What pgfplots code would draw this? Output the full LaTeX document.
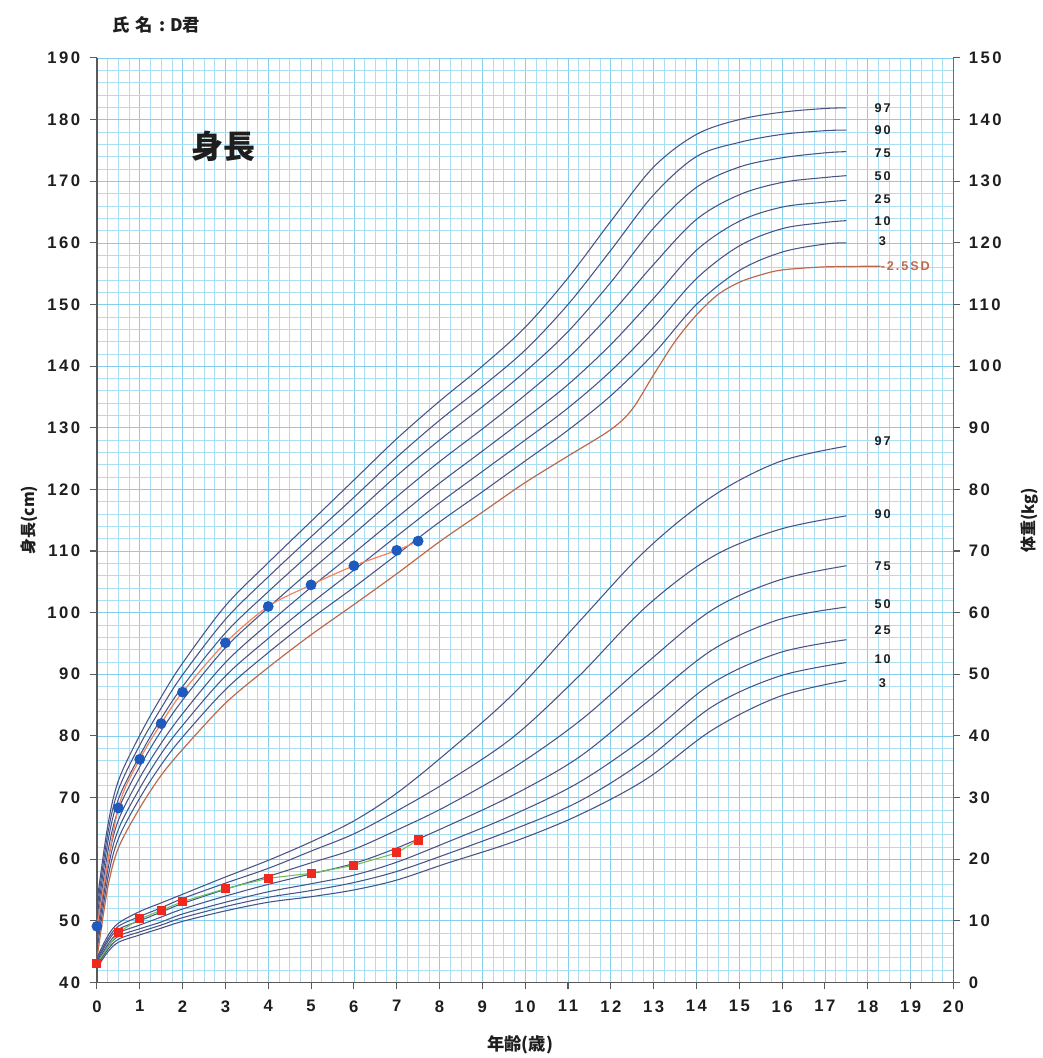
\documentclass[border=0pt]{standalone}
\usepackage{fontspec}
\usepackage{pgfplots}
\usepackage{pgfplotstable}
\pgfplotsset{compat=1.18}
\setmainfont{Liberation Sans}
\newfontfamily\jp{Noto Sans CJK JP}
\newfontfamily\numf{Liberation Sans}[LetterSpace=15]

\definecolor{gridmin}{RGB}{172,222,243}
\definecolor{gridmaj}{RGB}{135,205,236}
\definecolor{pct}{RGB}{72,84,135}
\definecolor{sdc}{RGB}{190,105,75}
\definecolor{dotblue}{RGB}{30,90,190}
\definecolor{sqred}{RGB}{240,40,30}
\definecolor{htline}{RGB}{245,130,90}
\definecolor{wtline}{RGB}{110,190,90}
\definecolor{axgray}{RGB}{90,90,90}
\definecolor{txt}{RGB}{30,30,30}

\pgfplotstableread{
age  p3    p10   p25   p50   p75   p90   p97
0    45.0  46.3  47.6  49.0  50.4  51.7  53.0
0.25 56.7  58.1  59.4  61.0  62.6  64.0  65.3
0.5  63.3  64.8  66.3  68.0  69.7  71.2  72.7
1    69.9  71.5  73.2  75.0  76.8  78.5  80.1
1.5  75.3  77.1  78.8  80.8  82.8  84.5  86.3
2    79.8  81.7  83.6  85.8  88.0  89.9  91.8
3    87.5  89.7  91.9  94.3  96.7  98.9  101.1
4    93.5  95.8  98.2  100.8 103.4 105.8 108.1
5    99.0  101.5 104.1 106.9 109.7 112.3 114.8
6    104.1 106.9 109.7 112.8 115.9 118.7 121.5
7    109.4 112.4 115.4 118.8 122.2 125.2 128.2
8    114.7 117.8 121.0 124.5 128.0 131.2 134.3
9    119.6 122.9 126.2 129.8 133.4 136.7 140.0
10   124.6 128.0 131.5 135.3 139.1 142.6 146.3
11   129.6 133.2 137.0 141.3 145.6 150.0 154.3
12   135.2 139.2 143.5 148.5 153.6 158.8 163.5
13   142.0 146.3 151.0 156.5 162.4 167.8 172.3
14   150.0 154.2 158.8 163.8 169.0 174.0 177.6
15   155.5 159.5 163.5 167.8 172.3 176.3 180.0
16   158.5 162.3 165.8 169.8 173.8 177.6 181.2
17   159.8 163.3 166.6 170.6 174.6 178.2 181.8
17.5 160.0 163.6 166.9 170.9 174.8 178.3 181.9
}\htab

\pgfplotstableread{
age  sd
0    43.8
0.25 55.3
0.5  61.8
1    68.3
1.5  73.6
2    77.8
3    85.3
4    91.1
5    96.4
6    101.3
7    106.3
8    111.5
9    116.3
10   121.1
11   125.4
12   129.7
12.5 133.0
13   138.6
13.5 144.0
14   148.3
14.5 151.6
15   153.6
15.5 154.8
16   155.6
17   156.1
18.3 156.2
}\sdtab

\pgfplotstableread{
age   p3   p10  p25  p50  p75  p90  p97
0     2.3  2.6  2.8  3.1  3.4  3.7  4.0
0.25  4.9  5.3  5.7  6.1  6.6  7.0  7.5
0.5   6.5  7.0  7.5  8.0  8.6  9.1  9.6
1     7.7  8.2  8.7  9.3  10.0 10.7 11.5
1.5   8.8  9.3  9.8  10.6 11.4 12.1 12.9
2     9.9  10.5 11.1 11.9 12.8 13.6 14.3
3     11.6 12.3 13.0 14.0 15.1 16.1 17.1
4     13.0 13.8 14.7 15.9 17.2 18.5 19.8
5     13.9 14.9 16.0 17.6 19.4 21.3 22.8
6     15.0 16.2 17.4 19.3 21.6 24.1 26.2
7     16.6 18.0 19.5 21.8 24.7 27.8 30.7
8.16  19.3 20.8 22.7 25.3 28.6 32.5 37.2
9.72  22.8 24.8 27.2 30.4 34.8 39.8 46.8
11.27 27.2 29.4 32.5 36.6 42.4 49.8 58.6
12.83 33.0 36.2 39.9 45.4 51.8 61.0 70.2
14.38 41.0 44.8 48.6 54.0 60.5 69.1 78.9
15.94 46.4 49.7 53.5 58.9 65.3 73.5 84.5
17.5  49.0 51.9 55.6 60.9 67.6 75.7 87.0
}\wtab

\pgfplotstableread{
age ht wt
0   49.1 3.1
0.5 68.3 8.1
1   76.2 10.3
1.5 82.0 11.7
2   87.1 13.1
3   95.1 15.2
4   101.0 16.9
5   104.5 17.7
6   107.6 19.0
7   110.1 21.0
7.5 111.6 23.1
}\child

\begin{document}
\begin{tikzpicture}
\pgfplotsset{
  common/.style={
    scale only axis, width=642.75pt, height=693.75pt,
    xmin=0, xmax=20,
    tick align=outside, major tick length=5pt, minor tick length=0pt,
    tick style={color=axgray, line width=0.8pt},
    ticklabel style={font=\numf\bfseries\fontsize{12.5}{13}\selectfont, text=txt},
    /pgf/number format/assume math mode=true,
    clip=false,
  },
  pc/.style={pct, line width=0.8pt, smooth, tension=0.55},
}
\begin{axis}[common, name=main,
  ymin=40, ymax=190,
  xtick={0,...,20}, ytick={40,50,...,190},
  minor x tick num=3, minor y tick num=4,
  grid=both,
  minor grid style={color=gridmin, line width=0.4pt},
  major grid style={color=gridmaj, line width=0.5pt},
  axis x line*=bottom, axis y line*=left,
  axis line style={-, color=axgray, line width=1.1pt},
  yticklabel style={xshift=-4pt},
  xticklabel style={yshift=-5pt},
]
\addplot[pc] table[x=age,y=p97] {\htab};
\addplot[pc] table[x=age,y=p90] {\htab};
\addplot[pc] table[x=age,y=p75] {\htab};
\addplot[pc] table[x=age,y=p50] {\htab};
\addplot[pc] table[x=age,y=p25] {\htab};
\addplot[pc] table[x=age,y=p10] {\htab};
\addplot[pc] table[x=age,y=p3] {\htab};
\addplot[sdc, line width=0.9pt, smooth, tension=0.5] table[x=age,y=sd] {\sdtab};
\addplot[htline, line width=0.9pt, smooth, tension=0.5, mark=*, mark size=3.6pt,
  mark options={draw=dotblue, fill=dotblue}] table[x=age,y=ht] {\child};

\begin{scope}[font=\numf\bfseries\fontsize{9.5}{10}\selectfont, text=txt]
\node[anchor=west] at (axis cs:18.05,181.9) {97};
\node[anchor=west] at (axis cs:18.05,178.3) {90};
\node[anchor=west] at (axis cs:18.05,174.6) {75};
\node[anchor=west] at (axis cs:18.05,170.9) {50};
\node[anchor=west] at (axis cs:18.05,167.1) {25};
\node[anchor=west] at (axis cs:18.05,163.6) {10};
\node[anchor=west] at (axis cs:18.15,160.3) {3};
\node[anchor=west, text=sdc, inner sep=0pt] at (axis cs:18.3,156.2) {-2.5SD};
\end{scope}
\node[font=\jp\bfseries\fontsize{24}{24}\selectfont, text=txt] at (axis cs:2.95,175.6) {身長};
\node[rotate=90, font=\jp\bfseries\fontsize{12}{12}\selectfont, text=txt] at ([xshift=-51pt]rel axis cs:0,0.5) {身長(cm)};
\node[font=\jp\bfseries\fontsize{13}{13}\selectfont, text=txt] at ([yshift=-46.5pt]rel axis cs:0.494,0) {年齢(歳)};
\node[anchor=west, font=\jp\bfseries\fontsize{13}{13}\selectfont, text=txt] at ([xshift=8pt,yshift=25pt]rel axis cs:0,1) {氏\hspace{0.35em}名\hspace{0.35em}:\hspace{0.3em}D君};
\end{axis}

\begin{axis}[common,
  ymin=0, ymax=150,
  axis x line=none, axis y line*=right,
  ytick={0,10,...,150},
  axis line style={-, color=sdc!50!axgray, line width=0.6pt},
  yticklabel style={xshift=3pt},
]
\addplot[pc] table[x=age,y=p97] {\wtab};
\addplot[pc] table[x=age,y=p90] {\wtab};
\addplot[pc] table[x=age,y=p75] {\wtab};
\addplot[pc] table[x=age,y=p50] {\wtab};
\addplot[pc] table[x=age,y=p25] {\wtab};
\addplot[pc] table[x=age,y=p10] {\wtab};
\addplot[pc] table[x=age,y=p3] {\wtab};
\addplot[wtline, line width=0.8pt, mark=square*, mark size=3pt,
  mark options={draw=sqred, fill=sqred}] table[x=age,y=wt] {\child};
\begin{scope}[font=\numf\bfseries\fontsize{9.5}{10}\selectfont, text=txt]
\node[anchor=west] at (axis cs:18.05,87.9) {97};
\node[anchor=west] at (axis cs:18.05,75.9) {90};
\node[anchor=west] at (axis cs:18.05,67.6) {75};
\node[anchor=west] at (axis cs:18.05,61.3) {50};
\node[anchor=west] at (axis cs:18.05,57.1) {25};
\node[anchor=west] at (axis cs:18.05,52.5) {10};
\node[anchor=west] at (axis cs:18.15,48.6) {3};
\end{scope}
\node[rotate=90, font=\jp\bfseries\fontsize{12}{12}\selectfont, text=txt] at ([xshift=57pt]rel axis cs:1,0.5) {体重(kg)};
\end{axis}
\path ([xshift=-72.75pt,yshift=-56.25pt]main.south west) rectangle ([xshift=65.25pt,yshift=43.5pt]main.north east);
\end{tikzpicture}
\end{document}
